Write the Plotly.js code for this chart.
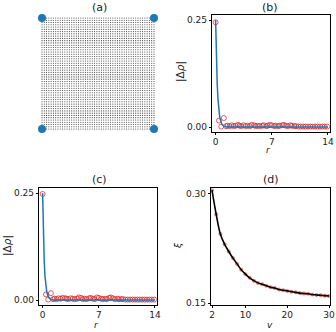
<!DOCTYPE html>
<html>
<head>
<meta charset="utf-8">
<script src="https://cdn.plot.ly/plotly-3.0.1.min.js"></script>
<style>
  body { margin: 0; background: #fff; }
  #plot { width: 336px; height: 332px; }
</style>
</head>
<body>
<div id="plot"></div>
<script>
// lattice size for panel (a)
var L = 50;
var cornerX = [0, L - 1, 0, L - 1];
var cornerY = [0, 0, L - 1, L - 1];
var neighX = [1, 0, L - 2, L - 1, 1, 0, L - 2, L - 1];
var neighY = [0, 1, 0, 1, L - 1, L - 2, L - 1, L - 2];

// panel (b): fitted curve and measured points
var fitR = [0, 0.1, 0.2, 0.3, 0.4, 0.5, 0.6, 0.7, 0.8, 0.9, 1.0, 1.2, 1.5, 2, 14];
var fitB = [0.25, 0.16, 0.10, 0.064, 0.04, 0.025, 0.016, 0.01, 0.006, 0.004, 0.0025, 0.001, 0.0003, 0, 0];
var ptsR = [0, 0.42, 0.7, 1.03, 1.3, 1.5, 1.75, 2.0, 2.25, 2.5, 2.8, 3.0, 3.2, 3.5, 3.75, 4.0, 4.3, 4.5, 4.8, 5.0,
            5.25, 5.5, 5.8, 6.0, 6.3, 6.5, 6.75, 7.0, 7.3, 7.5, 7.8, 8.0, 8.3, 8.5, 8.75, 9.0, 9.3, 9.5, 9.8, 10.0,
            10.3, 10.6, 10.9, 11.2, 11.5, 11.8, 12.1, 12.4, 12.7, 13.0, 13.3, 13.6, 13.9];
var ptsB = [0.245, 0.015, 0.001, 0.021, 0.002, 0.003, 0.002, 0.004, 0.002, 0.003, 0.005, 0.003, 0.002, 0.004, 0.002, 0.003, 0.002, 0.005, 0.004, 0.002,
            0.003, 0.002, 0.003, 0.004, 0.002, 0.003, 0.005, 0.004, 0.002, 0.003, 0.002, 0.003, 0.004, 0.005, 0.003, 0.002, 0.004, 0.003, 0.002, 0.002,
            0.001, 0.001, 0.001, 0.001, 0.001, 0.001, 0.001, 0.001, 0.001, 0.001, 0.001, 0.001, 0.001];

// panel (c)
var fitC = [0.25, 0.15, 0.09, 0.055, 0.034, 0.021, 0.013, 0.008, 0.005, 0.003, 0.002, 0.0008, 0.0002, 0, 0];
var ptsC = [0.248, 0.013, 0.001, 0.016, 0.002, 0.003, 0.002, 0.004, 0.003, 0.005, 0.004, 0.003, 0.002, 0.004, 0.003, 0.002, 0.003, 0.006, 0.005, 0.002,
            0.003, 0.002, 0.004, 0.005, 0.003, 0.002, 0.006, 0.005, 0.003, 0.002, 0.003, 0.002, 0.005, 0.006, 0.004, 0.002, 0.003, 0.002, 0.002, 0.002,
            0.001, 0.001, 0.001, 0.001, 0.001, 0.001, 0.001, 0.001, 0.001, 0.001, 0.001, 0.001, 0.001];

// panel (d): xi vs v
var v = [2, 3, 4, 5, 6, 7, 8, 9, 10, 11, 12, 13, 14, 15, 16, 17, 18, 19, 20, 21, 22, 23, 24, 25, 26, 27, 28, 29, 30];
var xi = [0.305, 0.272, 0.245, 0.231, 0.221, 0.212, 0.204, 0.196, 0.190, 0.185, 0.181, 0.178, 0.176, 0.174, 0.172, 0.171, 0.169, 0.168, 0.167,
          0.166, 0.165, 0.164, 0.1635, 0.163, 0.162, 0.1615, 0.161, 0.1605, 0.160];

var gx = [], gy = [];
for (var i = 0; i < L; i++) {
  for (var j = 0; j < L; j++) { gx.push(i); gy.push(j); }
}

var W = 336, H = 332;
function xd(a, b) { return [a / W, b / W]; }
function yd(top, bot) { return [1 - bot / H, 1 - top / H]; }

var blue = '#1f77b4', red = 'rgba(214,39,40,0.75)';
var font = {family: 'DejaVu Sans', size: 9, color: '#222'};

var data = [
  {x: gx, y: gy, xaxis: 'x', yaxis: 'y', mode: 'markers', type: 'scatter',
   marker: {size: 1.1, color: '#3a3a3a'}},
  {x: neighX, y: neighY, xaxis: 'x', yaxis: 'y', mode: 'markers', type: 'scatter',
   marker: {size: 2.6, color: '#ff9f4a'}},
  {x: cornerX, y: cornerY, xaxis: 'x', yaxis: 'y', mode: 'markers', type: 'scatter',
   marker: {size: 8, color: blue}},

  {x: ptsR, y: ptsB, xaxis: 'x2', yaxis: 'y2', mode: 'markers', type: 'scatter',
   marker: {symbol: 'circle-open', size: 5, color: red, line: {width: 1}}},
  {x: fitR, y: fitB, xaxis: 'x2', yaxis: 'y2', mode: 'lines', type: 'scatter',
   line: {color: blue, width: 1.5}},

  {x: ptsR, y: ptsC, xaxis: 'x3', yaxis: 'y3', mode: 'markers', type: 'scatter',
   marker: {symbol: 'circle-open', size: 5, color: red, line: {width: 1}}},
  {x: fitR, y: fitC, xaxis: 'x3', yaxis: 'y3', mode: 'lines', type: 'scatter',
   line: {color: blue, width: 1.5}},

  {x: v, y: xi, xaxis: 'x4', yaxis: 'y4', mode: 'markers', type: 'scatter',
   marker: {size: 4, color: 'rgba(230,80,80,0.7)'}},
  {x: v, y: xi, xaxis: 'x4', yaxis: 'y4', mode: 'lines', type: 'scatter',
   line: {color: '#000', width: 1.6, shape: 'spline'}}
];

function boxAxis(extra) {
  var ax = {showline: true, mirror: true, linecolor: '#000', linewidth: 1.2,
            ticks: 'outside', ticklen: 2, tickwidth: 1, tickcolor: '#000',
            showgrid: false, zeroline: false, tickfont: font, fixedrange: true};
  for (var k in extra) ax[k] = extra[k];
  return ax;
}

var layout = {
  width: W, height: H,
  margin: {l: 0, r: 0, t: 0, b: 0},
  paper_bgcolor: '#fff', plot_bgcolor: '#fff',
  showlegend: false,
  font: font,
  xaxis: {domain: xd(36, 160), range: [-2.625, 51.625], visible: false},
  yaxis: {domain: yd(12, 135), range: [-2.65, 51.65], visible: false},
  xaxis2: boxAxis({domain: xd(212, 330), range: [-0.45, 14.25], tickvals: [0, 7, 14], anchor: 'y2', ticklabelstandoff: -1}),
  yaxis2: boxAxis({domain: yd(15, 132), range: [-0.0117, 0.262], tickvals: [0, 0.25], tickformat: '.2f', anchor: 'x2'}),
  xaxis3: boxAxis({domain: xd(39, 157), range: [-0.45, 14.25], tickvals: [0, 7, 14], anchor: 'y3', ticklabelstandoff: -1}),
  yaxis3: boxAxis({domain: yd(188, 305), range: [-0.0117, 0.262], tickvals: [0, 0.25], tickformat: '.2f', anchor: 'x3'}),
  xaxis4: boxAxis({domain: xd(211, 330), range: [1.76, 30.24], tickvals: [2, 10, 20, 30], anchor: 'y4', ticklabelstandoff: -1}),
  yaxis4: boxAxis({domain: yd(188, 305), range: [0.1477, 0.308], tickvals: [0.15, 0.30], tickformat: '.2f', anchor: 'x4'}),
  annotations: []
};

function note(text, px, py, size, angle, italic) {
  layout.annotations.push({
    text: italic ? '<i>' + text + '</i>' : text,
    xref: 'paper', yref: 'paper', x: px / W, y: 1 - py / H,
    xanchor: 'center', yanchor: 'middle', showarrow: false, textangle: angle || 0,
    font: {family: 'DejaVu Sans', size: size, color: '#222'}
  });
}
note('(a)', 99, 7, 11);
note('(b)', 270, 7, 11);
note('(c)', 99, 179, 11);
note('(d)', 271, 179, 11);
note('|Δ<i>ρ</i>|', 180, 72, 10.5, -90);
note('|Δ<i>ρ</i>|', 7, 246, 10.5, -90);
note('ξ', 178, 246, 9, -90, true);
note('r', 268, 150, 9, 0, true);
note('r', 96, 325, 9, 0, true);
note('v', 270, 325, 9, 0, true);

Plotly.newPlot('plot', data, layout, {staticPlot: true});
</script>
</body>
</html>
